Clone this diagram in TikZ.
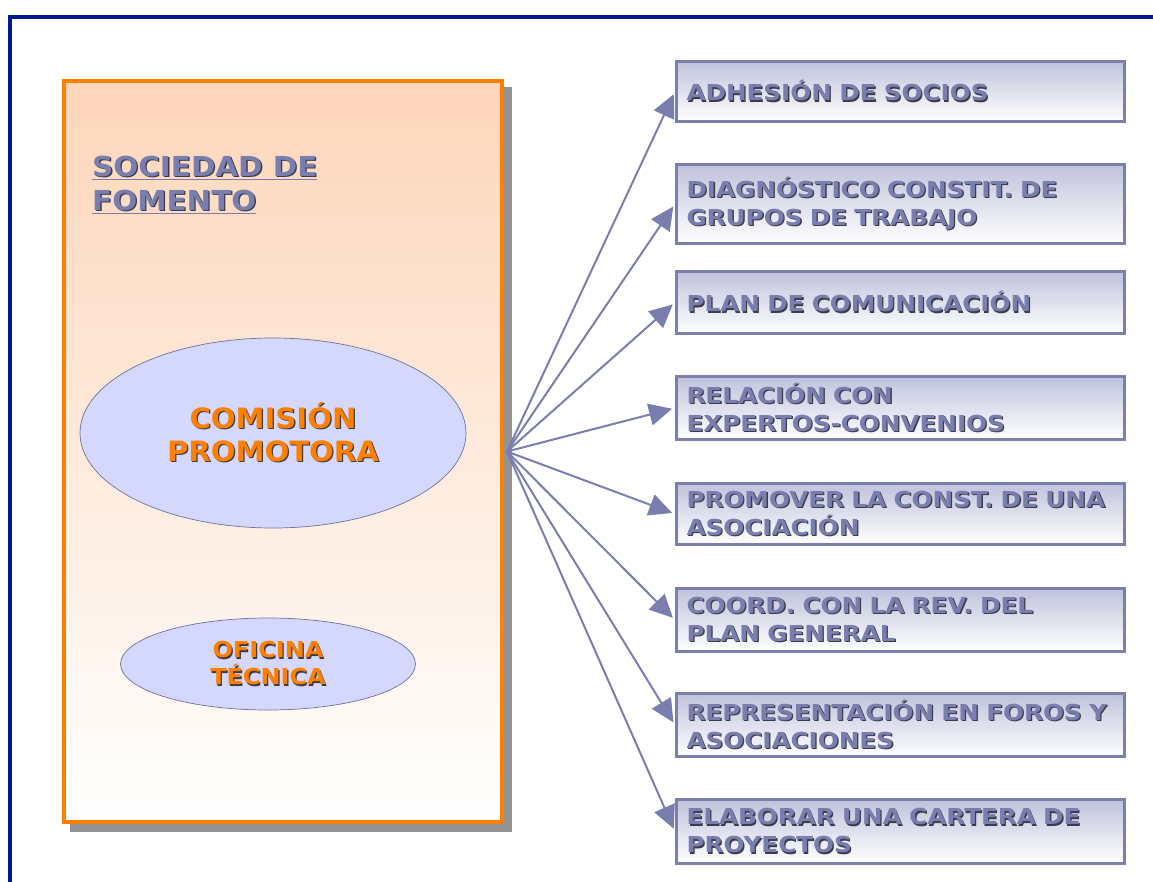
\documentclass[tikz,border=0pt]{standalone}
\usepackage{fontspec}
\setmainfont{DejaVu Sans}
\newfontfamily\boxfont[FakeStretch=1.12]{DejaVu Sans Bold}
\newfontfamily\titlefont[FakeStretch=1.07]{DejaVu Sans Bold}
\newfontfamily\ovalfont[FakeStretch=1.04]{DejaVu Sans Bold}
\newfontfamily\smallovalfont[FakeStretch=1.09]{DejaVu Sans Bold}
\usetikzlibrary{positioning}
\usetikzlibrary{arrows.meta, shapes.geometric}

\definecolor{frameblue}{RGB}{0,24,144}
\definecolor{slate}{RGB}{122,126,174}
\definecolor{slateline}{RGB}{124,127,172}
\definecolor{peach}{RGB}{253,214,186}
\definecolor{orangeline}{RGB}{255,128,0}
\definecolor{lavender}{RGB}{212,216,252}
\definecolor{ovalline}{RGB}{112,112,160}
\definecolor{boxtop}{RGB}{192,194,220}
\definecolor{dropgray}{RGB}{146,146,146}
\definecolor{textshade}{RGB}{60,60,72}

% text with a small dark shadow
\newcommand{\shd}[1]{\makebox[0pt][l]{\hspace{1.3pt}\raisebox{-1.3pt}{\color{textshade}#1}}#1}

\begin{document}
\begin{tikzpicture}[x=1pt, y=-1pt,
                slatesquarednode/.style={rectangle, draw=slateline, line width=3pt, top color=boxtop, bottom color=white,
                    minimum width=448pt, anchor=north west, align=left, text width=428pt, inner sep=0pt,
                    text=slate, font=\boxfont\fontsize{22}{28}\selectfont},
                orangesquarednode/.style={rectangle, draw=orangeline, line width=4pt, top color=peach, bottom color=white,
                    minimum width=438pt, minimum height=741pt, anchor=north west},
                lavenderovalnode/.style={ellipse, draw=ovalline, line width=0.7pt, fill=lavender, align=center,
                    inner sep=0pt, text=orangeline},
                flow/.style={draw=slate, line width=2pt, -{Triangle[length=23pt, width=22pt]}, shorten >=3pt},
                ]
                \useasboundingbox (0,0) rectangle (1153,882);
                \draw[frameblue, line width=4pt] (10,882) -- (10,17) -- (1153,17);

                % sociedad de fomento
                \fill[dropgray] (70,87) rectangle (512,832);
                \node[orangesquarednode] (sociedad) at (62,79) {};
                \node[anchor=north west, align=left, inner sep=0pt, text=slate,
                      font=\titlefont\fontsize{27.5}{34}\selectfont] (title) at (92,156)
                      {\underline{\shd{SOCIEDAD DE}}\\\underline{\shd{FOMENTO}}};
                \node[lavenderovalnode, minimum width=386pt, minimum height=190pt,
                      font=\ovalfont\fontsize{28}{33}\selectfont] (comision) at (273,433)
                      {\shd{COMISIÓN}\\\shd{PROMOTORA}};
                \node[lavenderovalnode, minimum width=295pt, minimum height=92pt,
                      font=\smallovalfont\fontsize{22}{27}\selectfont] (oficina) at (268,664)
                      {\shd{OFICINA}\\\shd{TÉCNICA}};
                \coordinate (hub) at ([xshift=3pt]sociedad.east);

                % tareas
                \node[slatesquarednode, minimum height=60pt] (adhesion) at (675,60) {\shd{ADHESIÓN DE SOCIOS}};
                \node[slatesquarednode, minimum height=79pt] (diagnostico) at (675,163) {\shd{DIAGNÓSTICO CONSTIT. DE}\\\shd{GRUPOS DE TRABAJO}};
                \node[slatesquarednode, minimum height=62pt] (plan) at (675,270) {\shd{PLAN DE COMUNICACIÓN}};
                \node[slatesquarednode, minimum height=63pt] (relacion) at (675,375) {\shd{RELACIÓN CON}\\\shd{EXPERTOS-CONVENIOS}};
                \node[slatesquarednode, minimum height=61pt] (promover) at (675,482) {\shd{PROMOVER LA CONST. DE UNA}\\\shd{ASOCIACIÓN}};
                \node[slatesquarednode, minimum height=63pt] (coord) at (675,587) {\shd{COORD. CON LA REV. DEL}\\\shd{PLAN GENERAL}};
                \node[slatesquarednode, minimum height=63pt] (foros) at (675,692) {\shd{REPRESENTACIÓN EN FOROS Y}\\\shd{ASOCIACIONES}};
                \node[slatesquarednode, minimum height=64pt] (cartera) at (675,798) {\shd{ELABORAR UNA CARTERA DE}\\\shd{PROYECTOS}};

                \draw[flow] (hub) -- (adhesion.west);
                \draw[flow] (hub) -- (diagnostico.west);
                \draw[flow] (hub) -- (plan.west);
                \draw[flow] (hub) -- (relacion.west);
                \draw[flow] (hub) -- (promover.west);
                \draw[flow] (hub) -- (coord.west);
                \draw[flow] (hub) -- (foros.west);
                \draw[flow] (hub) -- (cartera.west);
            \end{tikzpicture}
\end{document}
